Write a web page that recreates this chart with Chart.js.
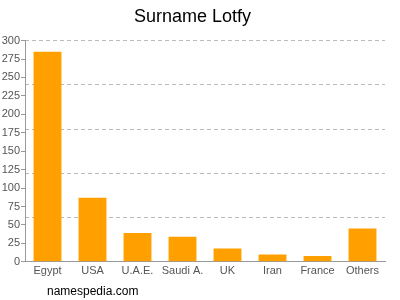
<!DOCTYPE html>
<html>
<head>
<meta charset="utf-8">
<script src="https://cdn.jsdelivr.net/npm/chart.js@4"></script>
<style>
  html, body { margin: 0; padding: 0; background: #fff; }
  #wrap { width: 400px; height: 300px; }
</style>
</head>
<body>
<div id="wrap"><canvas id="surnameChart"></canvas></div>
<script>
const countries = ["Egypt", "USA", "U.A.E.", "Saudi A.", "UK", "Iran", "France", "Others"];
const counts = [285, 87, 39, 34, 18, 10, 8, 45];
const tickStep = 25;
const gridStep = 60;
const yMax = 300;

// footer text under the chart
const footerPlugin = {
  id: "footer",
  afterDraw(chart) {
    const ctx = chart.ctx;
    ctx.save();
    ctx.font = "12px 'Liberation Sans', Arial, sans-serif";
    ctx.fillStyle = "#000";
    ctx.textBaseline = "middle";
    ctx.fillText("namespedia.com", 47, 292);
    ctx.restore();
  },
};

const ctx = document.getElementById("surnameChart");
new Chart(ctx.getContext("2d"), {
  type: "bar",
  data: {
    labels: countries,
    datasets: [
      {
        label: "Lotfy",
        data: counts,
        backgroundColor: "#ffa000",
        borderWidth: 0,
        categoryPercentage: 1,
        barPercentage: 0.62,
      },
    ],
  },
  options: {
    responsive: true,
    maintainAspectRatio: false,
    animation: false,
    layout: {
      padding: { left: 0, right: 15, top: 0, bottom: 19 },
    },
    plugins: {
      legend: { display: false },
      tooltip: { enabled: false },
      title: {
        display: true,
        text: "Surname Lotfy",
        color: "#000",
        font: { family: "'Liberation Sans', Arial, sans-serif", size: 18, weight: "normal" },
        padding: { top: 6, bottom: 13 },
      },
    },
    scales: {
      x: {
        grid: { display: false, drawTicks: false },
        border: { color: "#999" },
        ticks: {
          color: "#555",
          padding: 3,
          maxRotation: 0,
          minRotation: 0,
          autoSkip: false,
          font: { family: "'Liberation Sans', Arial, sans-serif", size: 11 },
        },
      },
      y: {
        min: 0,
        max: yMax,
        position: "left",
        border: { color: "#999" },
        grid: { drawOnChartArea: false, color: "#999", tickLength: 4 },
        ticks: {
          stepSize: tickStep,
          color: "#555",
          padding: 1,
          font: { family: "'Liberation Sans', Arial, sans-serif", size: 11 },
        },
        afterFit: (scale) => {
          scale.width = 25;
        },
      },
      yGrid: {
        min: 0,
        max: yMax,
        position: "left",
        border: { display: false, dash: [4, 3] },
        grid: { color: "#bbb", drawTicks: false },
        ticks: { display: false, stepSize: gridStep },
        afterFit: (scale) => {
          scale.width = 0;
        },
      },
    },
  },
  plugins: [footerPlugin],
});
</script>
</body>
</html>
